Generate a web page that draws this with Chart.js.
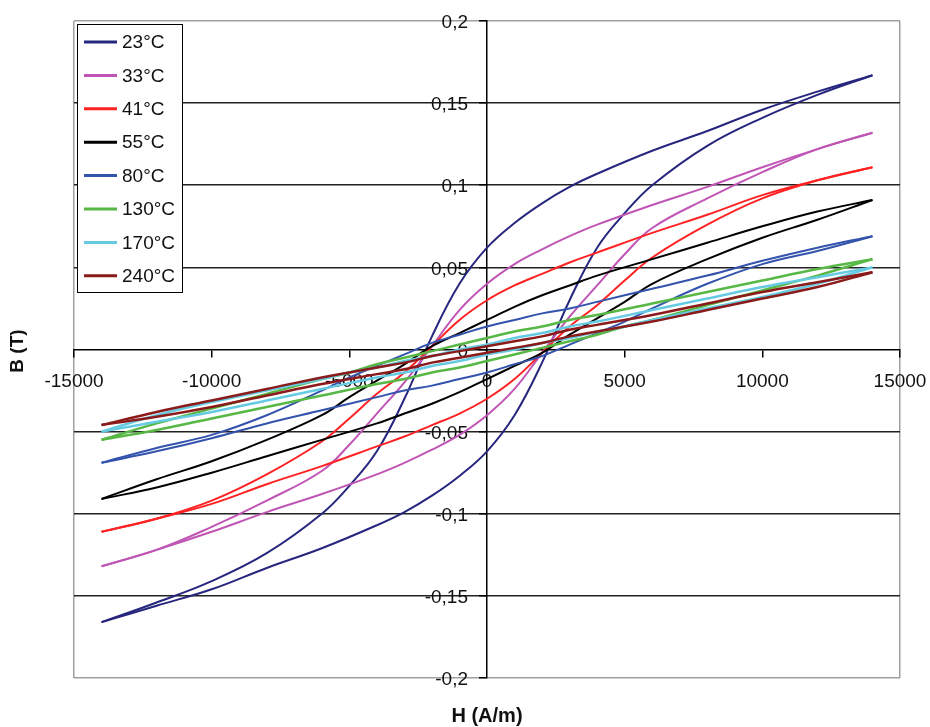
<!DOCTYPE html>
<html>
<head>
<meta charset="utf-8">
<script src="https://cdn.jsdelivr.net/npm/chart.js@4"></script>
<style>
  html, body { margin: 0; padding: 0; background: #fff; }
  #wrap { width: 930px; height: 727px; }
</style>
</head>
<body>
<div id="wrap"><canvas id="hyst" width="930" height="727"></canvas></div>
<script>
// Campo H (A/m): rama descendente y ascendente
const hDown = [14000, 12000, 10000, 8000, 6000, 4000, 3000, 2000, 1000, 0, -1000, -2000, -3000, -4000, -5000, -6000, -8000, -10000, -12000, -14000];
const hUp = [-14000, -12000, -10000, -8000, -6000, -4000, -3000, -2000, -1000, 0, 1000, 2000, 3000, 4000, 5000, 6000, 8000, 10000, 12000, 14000];

const temps = ['23°C', '33°C', '41°C', '55°C', '80°C', '130°C', '170°C', '240°C'];
const colors = ['#26267e', '#c055b5', '#ff2222', '#000000', '#3353ad', '#57b846', '#66cbe2', '#8b1a1a'];

// B (T)
const b23Down = [0.167, 0.157, 0.146, 0.133, 0.121, 0.107, 0.099, 0.089, 0.077, 0.062, 0.040, 0.008, -0.030, -0.062, -0.083, -0.100, -0.124, -0.141, -0.154, -0.166];
const b23Up = [-0.166, -0.156, -0.146, -0.133, -0.121, -0.107, -0.099, -0.089, -0.077, -0.062, -0.040, -0.008, 0.030, 0.062, 0.083, 0.100, 0.124, 0.141, 0.155, 0.167];
const b33Down = [0.132, 0.122, 0.111, 0.099, 0.088, 0.076, 0.069, 0.061, 0.052, 0.040, 0.024, 0.002, -0.020, -0.039, -0.058, -0.074, -0.092, -0.108, -0.122, -0.132];
const b33Up = [-0.132, -0.122, -0.111, -0.099, -0.088, -0.076, -0.069, -0.061, -0.052, -0.040, -0.024, -0.002, 0.020, 0.039, 0.058, 0.074, 0.092, 0.108, 0.122, 0.132];
const b41Down = [0.111, 0.103, 0.094, 0.082, 0.071, 0.059, 0.053, 0.046, 0.039, 0.030, 0.018, 0.002, -0.014, -0.027, -0.042, -0.056, -0.076, -0.092, -0.103, -0.111];
const b41Up = [-0.111, -0.103, -0.094, -0.082, -0.071, -0.059, -0.053, -0.046, -0.039, -0.030, -0.018, -0.002, 0.014, 0.027, 0.042, 0.056, 0.076, 0.092, 0.103, 0.111];
const b55Down = [0.091, 0.084, 0.075, 0.065, 0.055, 0.045, 0.039, 0.033, 0.026, 0.018, 0.010, 0.002, -0.009, -0.019, -0.029, -0.040, -0.055, -0.068, -0.079, -0.091];
const b55Up = [-0.091, -0.084, -0.075, -0.065, -0.055, -0.045, -0.039, -0.033, -0.026, -0.018, -0.010, -0.002, 0.009, 0.019, 0.029, 0.040, 0.055, 0.068, 0.079, 0.091];
const b80Down = [0.069, 0.062, 0.054, 0.045, 0.037, 0.029, 0.025, 0.022, 0.018, 0.014, 0.009, 0.004, -0.003, -0.010, -0.017, -0.025, -0.040, -0.052, -0.060, -0.069];
const b80Up = [-0.069, -0.062, -0.054, -0.045, -0.037, -0.029, -0.025, -0.022, -0.018, -0.014, -0.009, -0.004, 0.003, 0.010, 0.017, 0.025, 0.040, 0.052, 0.060, 0.069];
const b130Down = [0.055, 0.049, 0.042, 0.035, 0.028, 0.021, 0.018, 0.014, 0.011, 0.007, 0.003, -0.001, -0.005, -0.009, -0.014, -0.018, -0.027, -0.036, -0.045, -0.055];
const b130Up = [-0.055, -0.049, -0.042, -0.035, -0.028, -0.021, -0.018, -0.014, -0.011, -0.007, -0.003, 0.001, 0.005, 0.009, 0.014, 0.018, 0.027, 0.036, 0.045, 0.055];
const b170Down = [0.050, 0.044, 0.038, 0.031, 0.024, 0.017, 0.014, 0.010, 0.007, 0.003, 0.000, -0.004, -0.007, -0.011, -0.014, -0.018, -0.025, -0.032, -0.040, -0.050];
const b170Up = [-0.050, -0.044, -0.038, -0.031, -0.024, -0.017, -0.014, -0.010, -0.007, -0.003, 0.000, 0.004, 0.007, 0.011, 0.014, 0.018, 0.025, 0.032, 0.040, 0.050];
const b240Down = [0.047, 0.041, 0.035, 0.028, 0.021, 0.015, 0.012, 0.008, 0.005, 0.002, -0.001, -0.004, -0.008, -0.011, -0.014, -0.017, -0.024, -0.031, -0.038, -0.046];
const b240Up = [-0.046, -0.041, -0.035, -0.028, -0.021, -0.015, -0.012, -0.008, -0.005, -0.002, 0.001, 0.004, 0.008, 0.011, 0.014, 0.017, 0.024, 0.031, 0.038, 0.047];

const yTicks = [-0.2, -0.15, -0.1, -0.05, 0, 0.05, 0.1, 0.15, 0.2];

const ramas = [
  [b23Down, b23Up], [b33Down, b33Up], [b41Down, b41Up], [b55Down, b55Up],
  [b80Down, b80Up], [b130Down, b130Up], [b170Down, b170Up], [b240Down, b240Up]
];

const datasets = [];
temps.forEach((t, i) => {
  [[hDown, ramas[i][0]], [hUp, ramas[i][1]]].forEach(([hs, bs]) => {
    datasets.push({
      label: t,
      data: hs.map((h, k) => ({ x: h, y: bs[k] })),
      borderColor: colors[i],
      borderWidth: i >= 5 ? 2.5 : 2,
      pointRadius: 0,
      showLine: true,
      tension: 0.4,
      fill: false,
      order: temps.length - i
    });
  });
});

const FONT = '"Liberation Sans", Arial, sans-serif';

// leyenda dentro del area y titulos de ejes
const extras = {
  id: 'extras',
  afterDatasetsDraw(chart) {
    const ctx = chart.ctx;
    ctx.save();
    ctx.fillStyle = '#fff';
    ctx.fillRect(77, 24, 105, 268);
    ctx.strokeStyle = '#000';
    ctx.lineWidth = 1;
    ctx.strokeRect(77.5, 24.5, 105, 268);
    ctx.font = '19px ' + FONT;
    ctx.textBaseline = 'middle';
    ctx.textAlign = 'left';
    temps.forEach((t, i) => {
      const y = 42 + i * 33.4;
      ctx.strokeStyle = colors[i];
      ctx.lineWidth = 3;
      ctx.beginPath();
      ctx.moveTo(84, y);
      ctx.lineTo(117, y);
      ctx.stroke();
      ctx.fillStyle = '#111';
      ctx.fillText(t, 122, y + 1);
    });

    ctx.fillStyle = '#111';
    ctx.font = 'bold 20px ' + FONT;
    ctx.textAlign = 'center';
    ctx.fillText('H (A/m)', 487, 716);
    ctx.translate(18, 351);
    ctx.rotate(-Math.PI / 2);
    ctx.font = 'bold 19px ' + FONT;
    ctx.fillText('B (T)', 0, 0);
    ctx.restore();
  }
};

const esBorde = v => Math.abs(Math.abs(v) - 0.2) < 1e-9;

new Chart(document.getElementById('hyst').getContext('2d'), {
  type: 'scatter',
  data: { datasets: datasets },
  options: {
    responsive: false,
    animation: false,
    layout: { padding: { left: 74, right: 30, top: 21, bottom: 49 } },
    plugins: {
      legend: { display: false },
      tooltip: { enabled: false }
    },
    scales: {
      x: {
        type: 'linear',
        position: { y: 0 },
        min: -15000,
        max: 15000,
        afterFit: s => { s.height = 0; s.paddingLeft = 0; s.paddingRight = 0; },
        ticks: {
          stepSize: 5000,
          autoSkip: false,
          maxRotation: 0,
          color: '#111',
          padding: 14,
          font: { family: FONT, size: 19 },
          callback: v => String(v)
        },
        grid: {
          color: c => (c.tick && Math.abs(c.tick.value) === 15000) ? '#a0a0a0' : 'rgba(0,0,0,0)',
          tickColor: '#000',
          tickLength: 7,
          lineWidth: 1.5
        },
        border: { color: '#000', width: 1.5 }
      },
      y: {
        type: 'linear',
        position: { x: 0 },
        min: -0.2,
        max: 0.2,
        afterFit: s => { s.width = 0; s.paddingTop = 0; s.paddingBottom = 0; },
        afterBuildTicks: s => { s.ticks = yTicks.map(v => ({ value: v })); },
        ticks: {
          autoSkip: false,
          color: '#111',
          padding: 8,
          labelOffset: 2,
          font: { family: FONT, size: 19 },
          // el eje centrado no aplica padding: se deja hueco con espacios
          callback: v => String(Math.round(v * 100) / 100).replace('.', ',') + '\u2002\u2002'
        },
        grid: {
          color: c => {
            if (!c.tick) return 'rgba(0,0,0,0)';
            if (esBorde(c.tick.value)) return '#a0a0a0';
            if (c.tick.value === 0) return 'rgba(0,0,0,0)';
            return '#222';
          },
          tickColor: '#000',
          tickLength: 7,
          lineWidth: 1.5
        },
        border: { color: '#000', width: 1.5 }
      }
    }
  },
  plugins: [extras]
});
</script>
</body>
</html>
